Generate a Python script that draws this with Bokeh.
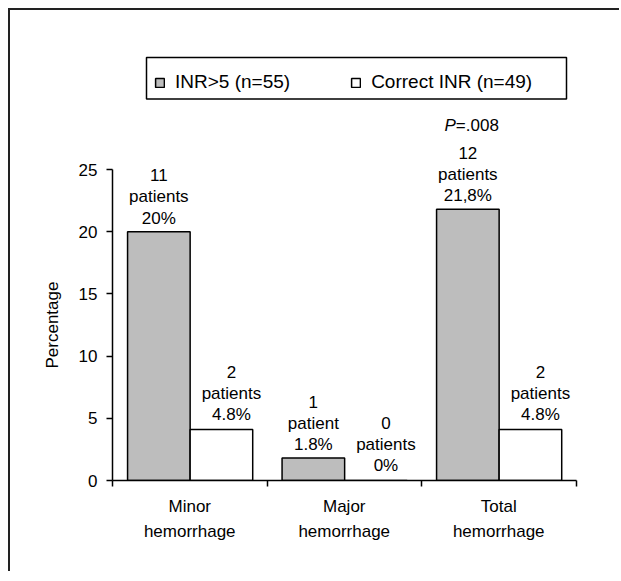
import numpy as np
from bokeh.plotting import figure
from bokeh.models import FixedTicker, Legend, LegendItem, Range1d, Title, BoxAnnotation
from bokeh.core.properties import value
from bokeh.embed import file_html
from bokeh.resources import INLINE

# ---- data ----
categories = ["Minor\nhemorrhage", "Major\nhemorrhage", "Total\nhemorrhage"]
series_names = ["INR>5 (n=55)", "Correct INR (n=49)"]
inr_high = [20.0, 1.8, 21.8]
inr_correct = [4.1, 0.0, 4.1]
inr_high_labels = ["11\npatients\n20%", "1\npatient\n1.8%", "12\npatients\n21,8%"]
inr_correct_labels = ["2\npatients\n4.8%", "0\npatients\n0%", "2\npatients\n4.8%"]
p_value_parts = ["P", "=.008"]
y_ticks = [0, 5, 10, 15, 20, 25]
y_label = "Percentage"

FONT = "Liberation Sans"
GREY = "#bdbdbd"

idx = np.arange(len(categories))
grey_x = idx + 0.30
white_x = idx + 0.705
bar_w = 0.405

p = figure(width=611, height=563, output_backend="svg", toolbar_location=None,
           x_range=Range1d(0, 3.1456), y_range=Range1d(0, 36.98),
           min_border_left=102, min_border_right=23, min_border_top=10,
           min_border_bottom=93)
p.styles = {"margin-left": "8px", "margin-top": "8px", "vertical-align": "top",
            "border-left": "2px solid #222", "border-top": "2px solid #222"}
p.outline_line_color = None
p.xgrid.visible = False
p.ygrid.visible = False
p.background_fill_color = "white"
p.border_fill_color = "white"

r_high = p.vbar(x=grey_x, top=inr_high, width=bar_w, bottom=0,
                fill_color=GREY, line_color="black", line_width=1.5)
r_corr = p.vbar(x=white_x, top=inr_correct, width=bar_w, bottom=0,
                fill_color="white", line_color="black", line_width=1.5)

txt = dict(text_font=value(FONT), text_font_size="17px", text_color="black",
           text_align="center", text_baseline="bottom", text_line_height=1.12)
p.text(x=grey_x, y=inr_high, text=inr_high_labels, y_offset=-4, **txt)
p.text(x=white_x, y=inr_correct, text=inr_correct_labels, x_offset=10, y_offset=-5, **txt)

# P value above the total bar label
p.text(x=[grey_x[2]], y=[inr_high[2]], text=[p_value_parts[0]], x_offset=-12, y_offset=-84,
       text_font=value(FONT), text_font_size="17px", text_font_style="italic",
       text_align="right", text_baseline="alphabetic", text_color="black")
p.text(x=[grey_x[2]], y=[inr_high[2]], text=[p_value_parts[1]], x_offset=-12, y_offset=-84,
       text_font=value(FONT), text_font_size="17px",
       text_align="left", text_baseline="alphabetic", text_color="black")

# y axis
p.yaxis.ticker = FixedTicker(ticks=y_ticks)
p.yaxis.bounds = (0, 25)
p.yaxis.major_label_text_font = FONT
p.yaxis.major_label_text_font_size = "17px"
p.yaxis.major_label_text_color = "black"
p.yaxis.major_label_standoff = 9
p.yaxis.major_tick_out = 6
p.yaxis.major_tick_in = 0
p.yaxis.minor_tick_line_color = None
p.yaxis.axis_line_width = 1.5
p.yaxis.major_tick_line_width = 1.5
p.yaxis.axis_line_color = "black"
p.yaxis.major_tick_line_color = "black"

# axis title, placed so it is centred on the 0-25 span
p.add_layout(Title(text=y_label, align="left", offset=112, standoff=28,
                   text_font=FONT, text_font_size="17px", text_font_style="normal",
                   text_color="black"), "left")

# x axis: labels centred in categories, ticks at boundaries
p.xaxis.ticker = FixedTicker(ticks=list(idx + 0.5), minor_ticks=list(range(len(categories) + 1)))
p.xaxis.bounds = (0, len(categories))
p.xaxis.major_label_overrides = {float(i + 0.5): c for i, c in enumerate(categories)}
p.xaxis.major_tick_line_color = None
p.xaxis.minor_tick_out = 6
p.xaxis.minor_tick_in = 0
p.xaxis.minor_tick_line_width = 1.5
p.xaxis.minor_tick_line_color = "black"
p.xaxis.axis_line_width = 1.5
p.xaxis.axis_line_color = "black"
p.xaxis.major_label_text_font = FONT
p.xaxis.major_label_text_font_size = "17px"
p.xaxis.major_label_text_color = "black"
p.xaxis.major_label_text_line_height = 1.36
p.xaxis.major_label_standoff = 10

# legend frame + legend
p.add_layout(BoxAnnotation(left=34, right=454, top=423, bottom=381.5,
                           left_units="screen", right_units="screen",
                           top_units="screen", bottom_units="screen",
                           fill_color="white", fill_alpha=1.0,
                           line_color="black", line_alpha=1.0, line_width=1.5))
legend = Legend(items=[LegendItem(label=series_names[0], renderers=[r_high]),
                       LegendItem(label=series_names[1], renderers=[r_corr])],
                orientation="horizontal", location=(42, 387),
                glyph_width=11, glyph_height=11, label_standoff=10, spacing=60,
                padding=10, label_text_font=FONT, label_text_font_size="19px",
                label_text_color="black", border_line_color=None,
                background_fill_alpha=0.0)
p.add_layout(legend, "center")

open("out.html", "w").write(file_html(p, INLINE))
